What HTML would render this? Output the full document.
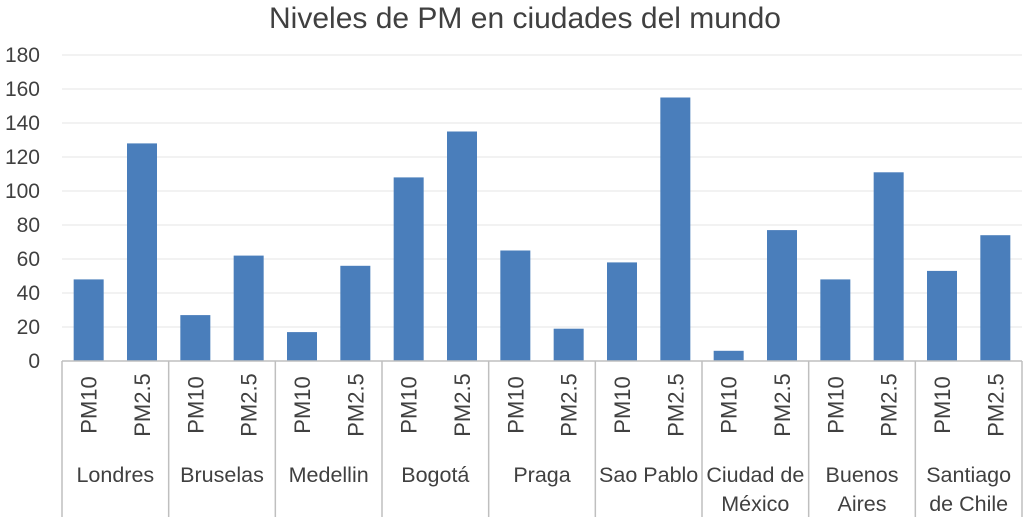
<!DOCTYPE html>
<html><head><meta charset="utf-8"><style>
body{margin:0;background:#fff;}
svg text{font-family:"Liberation Sans",sans-serif;fill:#404040;}
</style></head><body>
<svg id="c" width="1024" height="517" xmlns="http://www.w3.org/2000/svg">
<text x="525" y="28" font-size="30" text-anchor="middle">Niveles de PM en ciudades del mundo</text>
<g id="grid"></g><g id="bars"></g><g id="axis"></g>
</svg>
<script>
const cities=[["Londres"],["Bruselas"],["Medellin"],["Bogotá"],["Praga"],["Sao Pablo"],["Ciudad de","México"],["Buenos","Aires"],["Santiago","de Chile"]];
const seriesNames=["PM10","PM2.5"];
const pm10=[48,27,17,108,65,58,6,48,53];
const pm25=[128,62,56,135,19,155,77,111,74];
const yTicks=[0,20,40,60,80,100,120,140,160,180];
const NS="http://www.w3.org/2000/svg";
const x0=62,x1=1022,y0=361,yTop=55,yMax=180;
const gw=(x1-x0)/cities.length;
const y=v=>y0-(v/yMax)*(y0-yTop);
function mk(t,a,p){const e=document.createElementNS(NS,t);for(const k in a)e.setAttribute(k,a[k]);p.appendChild(e);return e;}
const grid=document.getElementById('grid'),bars=document.getElementById('bars'),ax=document.getElementById('axis');
yTicks.forEach(v=>{
 if(v>0){const l=mk('line',{x1:x0,x2:x1,y1:y(v),y2:y(v),stroke:'#e6e6e6','stroke-width':1},grid);
 
 }
 const t=mk('text',{x:40,y:y(v)+7,'font-size':21,'text-anchor':'end'},ax);t.textContent=v;
 
 
});
const series=[pm10,pm25];
cities.forEach((c,i)=>{
 const gx=x0+i*gw;
 series.forEach((s,j)=>{
  const cx=gx+gw*(j===0?0.25:0.75);
  const r=mk('rect',{x:cx-15,y:y(s[i]),width:30,height:y0-y(s[i]),fill:'#4a7ebb'},bars);
  
  
  const t=mk('text',{x:0,y:0,'font-size':22,'text-anchor':'middle',transform:`translate(${cx+8},405) rotate(-90)`},ax);
  t.textContent=seriesNames[j];
  
  
 });
 c.forEach((ln,k)=>{
  const t=mk('text',{x:gx+gw/2,y:482+k*29,'font-size':21.5,'text-anchor':'middle'},ax);t.textContent=ln;
  
  
 });
});
for(let i=0;i<=cities.length;i++){
 const xx=x0+i*gw;
 const l=mk('line',{x1:xx,x2:xx,y1:y0,y2:517,stroke:'#bfbfbf','stroke-width':1.5},ax);
 
 
}
const base=mk('line',{x1:x0,x2:x1,y1:y0,y2:y0,stroke:'#bfbfbf','stroke-width':1.5},ax);


</script>
</body></html>
